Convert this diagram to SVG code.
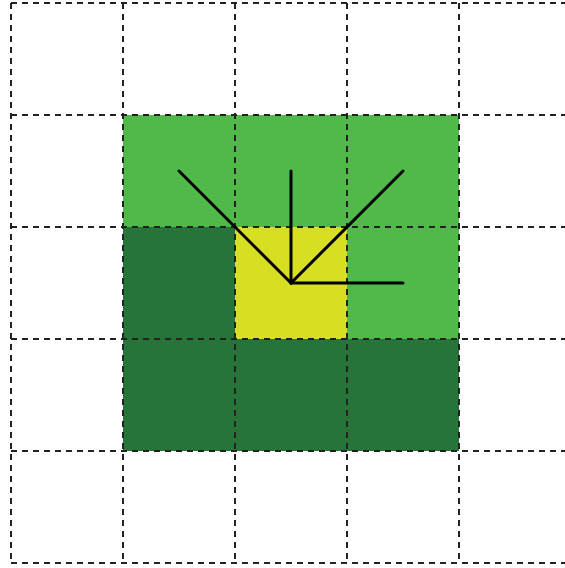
<svg xmlns="http://www.w3.org/2000/svg" width="565" height="568" viewBox="0 0 565 568">
<style>
.light{fill:#51b84a}
.dark{fill:#26743a}
.yel{fill:#d8de22}
.grid line{stroke:#222;stroke-width:2;stroke-dasharray:6,5}
.arm{stroke:#000;stroke-width:3;fill:none;stroke-linecap:round}
</style>
<rect width="565" height="568" fill="#fff"/>
<g id="cells">
<rect class="light" x="123" y="115" width="336" height="112"/>
<rect class="light" x="347" y="227" width="112" height="112"/>
<rect class="dark" x="123" y="227" width="112" height="112"/>
<rect class="dark" x="123" y="339" width="336" height="112"/>
<rect class="yel" x="235" y="227" width="112" height="112"/>
</g>
<g class="grid" id="grid">
<line x1="11" y1="3" x2="565" y2="3"/>
<line x1="11" y1="115" x2="565" y2="115"/>
<line x1="11" y1="227" x2="565" y2="227"/>
<line x1="11" y1="339" x2="565" y2="339"/>
<line x1="11" y1="451" x2="565" y2="451"/>
<line x1="11" y1="563" x2="565" y2="563"/>
<line x1="11" y1="3" x2="11" y2="563"/>
<line x1="123" y1="3" x2="123" y2="563"/>
<line x1="235" y1="3" x2="235" y2="563"/>
<line x1="347" y1="3" x2="347" y2="563"/>
<line x1="459" y1="3" x2="459" y2="563"/>
</g>
<g id="connectors">
<line class="arm" x1="291" y1="283" x2="179" y2="171"/>
<line class="arm" x1="291" y1="283" x2="291" y2="171"/>
<line class="arm" x1="291" y1="283" x2="403" y2="171"/>
<line class="arm" x1="291" y1="283" x2="403" y2="283"/>
</g>
</svg>
